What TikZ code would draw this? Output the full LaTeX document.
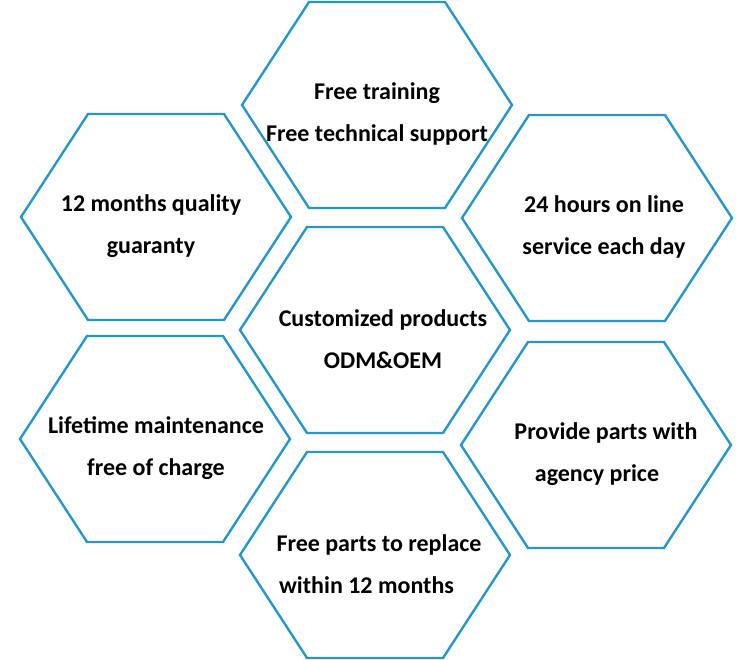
\documentclass[tikz,border=0pt]{standalone}
\usepackage{fontspec}
\setmainfont{Carlito}
\definecolor{hexblue}{RGB}{40,150,200}
\tikzset{
  hexline/.style={draw=hexblue, line width=2.4pt, line join=miter},
  hexlabel/.style={font=\bfseries\fontsize{24}{42}\selectfont, align=center, text=black, inner sep=0pt},
}

\begin{document}
\begin{tikzpicture}[x=1pt, y=-1pt]
  \useasboundingbox (0,0) rectangle (750,660);
  % seven cells: centre of cell, centre of text, name, text
  \foreach \cx/\cy/\tx/\name/\txt in {
      377/105/377/train/{Free training\\Free technical support},
      156/217/151/quality/{12 months quality\\guaranty},
      597/218/604/online/{24 hours on line\\service each day},
      375/330/383/custom/{Customized products\\ODM\&OEM},
      155/439/156/maintain/{Lifetime maintenance\\free of charge},
      596/445/606/parts/{Provide parts with\\agency price\hspace*{18pt}},
      375/555/379/replace/{Free parts to replace\\within 12 months\hspace*{25pt}}} {
    \draw[hexline] (\cx,\cy) ++(-135,0) -- ++(67,-103) -- ++(136,0) -- ++(67,103)
      -- ++(-67,103) -- ++(-136,0) -- cycle;
    \node[hexlabel] (\name) at (\tx,\cy+9) {\txt};
  }
\end{tikzpicture}
\end{document}
